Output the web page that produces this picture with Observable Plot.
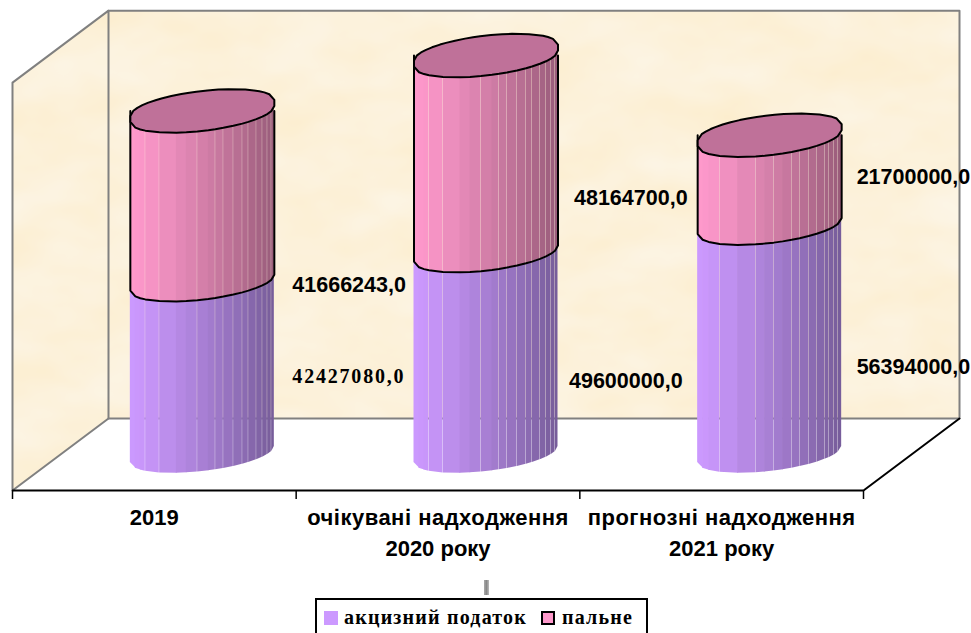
<!DOCTYPE html>
<html>
<head>
<meta charset="utf-8">
<script src="https://cdn.jsdelivr.net/npm/d3@7"></script>
<script src="https://cdn.jsdelivr.net/npm/@observablehq/plot@0.6"></script>
<style>
html,body{margin:0;padding:0;background:#fff;}
#page{position:relative;width:971px;height:633px;overflow:hidden;}
#page svg{display:block;}
#legend{position:absolute;left:315px;top:598px;width:329px;height:33px;border:2px solid #000;background:#fff;
  font:bold 20px "Liberation Serif",serif;letter-spacing:1.2px;color:#000;box-sizing:content-box;}
#legend span{position:absolute;top:7px;white-space:nowrap;line-height:20px;}
#legend i{position:absolute;top:11px;width:14px;height:14px;box-sizing:border-box;}
#mark{position:absolute;left:484px;top:580px;width:5px;height:15px;background:linear-gradient(90deg,#aaa,#888,#bbb);}
</style>
</head>
<body>
<div id="page"></div>
<script>
// ---- values ----
const categories = ["2019", "очікувані надходження\n2020 року", "прогнозні надходження\n2021 року"];
const excise = [42427080, 49600000, 56394000];
const fuel = [41666243, 48164700, 21700000];
const seriesNames = ["акцизний податок", "пальне"];
const wallTop = 100.7e6;

// ---- styling ----
const purple = ["#cc99ff", "#765c99"];
const pink = ["#ff99cc", "#995c7a"];
const topFill = "#bf7199";

// facet edges across the cylinder width (0..144), and the ones that show a seam
const facetsA = [0, 5, 10, 15, 29, 46, 56, 67, 78, 85, 93, 103, 112, 118, 126, 132, 137, 141, 144];
const seamsA = [15, 29, 67, 85, 93, 103, 112, 118, 126, 132, 137, 141];
const facetsB = [0, 5, 11, 22, 40, 58, 67, 76, 85, 94, 102, 111, 119, 127, 131, 136, 140, 144];
const seamsB = [22, 58, 76, 94, 102, 111, 119, 127, 131, 136, 140];
const facetSets = [[facetsA, seamsA], [facetsA, seamsA], [facetsB, seamsB]];

// px <-> data helpers
const bandPx = 851 / 3, pxPerVal = 4.05e-6;
const X = (px) => px / bandPx, Y = (px) => px / pxPerVal;
const dX = X(96), dY = Y(72);
const R = 72;

// Front curve of an ellipse, pixels down from its centre, for u in [-1,1]
const front = (u) => -8 * u + 3 + 17 * Math.sqrt(Math.max(0, 1 - u * u));
const cx = (i) => i + 0.5 + dX / 2;
const level = (v) => v + dY * 39 / 72;
const toU = (e) => e / 72 - 1;
const ptX = (i, u) => cx(i) + X(u * R);
const ptY = (v, u) => level(v) - Y(front(u));

// strips
const strips = [];
function addStrips(i, lo, hi, ramp, key) {
  const [edges, seams] = facetSets[i];
  const col = d3.interpolateRgb(ramp[0], ramp[1]);
  for (let j = 0; j < edges.length - 1; j++) {
    const a = edges[j], b = edges[j + 1];
    const gap = seams.includes(a) ? 0.3 : 0;
    const over = seams.includes(b) || j === edges.length - 2 ? 0 : 0.7;
    const id = `${key}${i}-${j}`;
    const t = Math.pow((a + b) / 2 / 144, 1.25);
    const u0 = toU(a), u1 = toU(b);
    strips.push({id, color: col(t), x: ptX(i, u0) + X(gap), y1: ptY(lo, u0), y2: ptY(hi, u0)});
    strips.push({id, color: col(t), x: ptX(i, u1) + X(over), y1: ptY(lo, u1), y2: ptY(hi, u1)});
  }
}
categories.forEach((c, i) => {
  addStrips(i, 0, excise[i], purple, "a");
  addStrips(i, excise[i], excise[i] + fuel[i], pink, "b");
});

// outlines
const outlines = [], caps = [];
categories.forEach((c, i) => {
  const edges = facetSets[i][0];
  const mid = excise[i], tot = excise[i] + fuel[i];
  outlines.push({id: i, x: ptX(i, -1), y: level(tot)});
  edges.forEach((e) => outlines.push({id: i, x: ptX(i, toU(e)), y: ptY(mid, toU(e))}));
  outlines.push({id: i, x: ptX(i, 1), y: level(tot)});
  edges.forEach((e) => caps.push({id: i, x: ptX(i, toU(e)), y: ptY(tot, toU(e))}));
  edges.forEach((e) => {
    const u = toU(e);
    caps.push({id: i, x: ptX(i, -u), y: level(tot) + Y(front(u))});
  });
  caps.push({id: i, x: ptX(i, -1), y: ptY(tot, -1)});
});

const leftWall = [
  {x: 0, y: 0}, {x: dX, y: dY}, {x: dX, y: dY + wallTop}, {x: 0, y: wallTop}, {x: 0, y: 0}
];
const backOutline = [
  {x: dX, y: dY + wallTop}, {x: 3 + dX, y: dY + wallTop}, {x: 3 + dX, y: dY}, {x: dX, y: dY}
];

const fmt = (v) => v.toFixed(1).replace(".", ",");
const labelShift = {
  excise: [[18, 11.5], [11, 30], [15, 30]],
  fuel: [[18, 89.5], [16, 45], [15, -2.5]]
};
const valueLabel = (v, i, mid, [sx, sy]) => ({
  text: fmt(v),
  x: ptX(i, 1) + X(sx),
  y: level(mid) - Y(sy)
});
const fuelLabels = fuel.map((v, i) => valueLabel(v, i, excise[i] + v / 2, labelShift.fuel[i]));
const exciseLabels = excise.map((v, i) => valueLabel(v, i, v / 2, labelShift.excise[i]));

const defs = () => {
  const g = d3.create("svg:defs");
  g.html(`<filter id="paper" x="0" y="0" width="1" height="1" color-interpolation-filters="sRGB">
    <feTurbulence type="fractalNoise" baseFrequency="0.012 0.022" numOctaves="3" seed="11"/>
    <feColorMatrix type="matrix" values="0 0 0 0 0.99  0.035 0 0 0 0.928  0.11 0 0 0 0.80  0 0 0 0 1"/>
    <feComposite in2="SourceAlpha" operator="in"/>
  </filter>`);
  return g.node();
};

const sans = {fontFamily: "'Liberation Sans',Arial,sans-serif", fontWeight: "bold", fill: "#000"};

const chart = Plot.plot({
  width: 971,
  height: 597,
  marginTop: 0, marginRight: 0, marginBottom: 0, marginLeft: 0,
  x: {domain: [0, 3], range: [12, 863], axis: null},
  y: {domain: [0, 120e6], range: [490, 4], axis: null},
  color: {type: "identity"},
  marks: [
    defs,
    Plot.rect([{}], {x1: dX, x2: 3 + dX, y1: dY, y2: dY + wallTop, fill: "#fcf1da"}),
    Plot.line(leftWall, {x: "x", y: "y", fill: "#fcf1da", stroke: "none"}),
    Plot.line(leftWall, {x: "x", y: "y", stroke: "#808080", strokeWidth: 2}),
    Plot.line(backOutline, {x: "x", y: "y", stroke: "#808080", strokeWidth: 2}),
    Plot.line([{x: 3, y: 0}, {x: 3 + dX, y: dY}], {x: "x", y: "y", stroke: "#000", strokeWidth: 2}),
    Plot.ruleY([0], {x1: 0, x2: 3, stroke: "#000", strokeWidth: 2}),
    Plot.ruleX([0, 1, 2, 3], {y1: 0, y2: Y(-9), stroke: "#000", strokeWidth: 1.5}),
    Plot.area(strips, {x1: "x", y1: "y1", y2: "y2", z: "id", fill: "color", curve: "linear"}),
    Plot.line(outlines, {x: "x", y: "y", z: "id", stroke: "#000", strokeWidth: 2, strokeLinejoin: "round", curve: "linear"}),
    Plot.line(caps, {x: "x", y: "y", z: "id", fill: topFill, stroke: "#000", strokeWidth: 2, strokeLinejoin: "round", curve: "linear"}),
    Plot.text(categories, {
      x: (d, i) => i + 0.5, y: 0, text: (d) => d, dy: 12, lineAnchor: "top", lineHeight: 1.41, fontSize: 22, ...sans
    }),
    Plot.text(fuelLabels, {x: "x", y: "y", text: "text", textAnchor: "start", fontSize: 21.5, ...sans}),
    Plot.text(exciseLabels.slice(1), {x: "x", y: "y", text: "text", textAnchor: "start", fontSize: 21.5, ...sans}),
    Plot.text(exciseLabels.slice(0, 1), {
      x: "x", y: "y", text: "text", textAnchor: "start",
      fontFamily: "'Liberation Serif',serif", fontWeight: "bold", fontSize: 20, fill: "#000"
    })
  ]
});

// paper texture on the two walls, letter spacing on the texts that need it
chart.querySelector('g[aria-label="rect"]').setAttribute("filter", "url(#paper)");
chart.querySelector('g[aria-label="line"]').setAttribute("filter", "url(#paper)");
const textGroups = chart.querySelectorAll('g[aria-label="text"]');
textGroups[textGroups.length - 1].querySelectorAll("text").forEach((t) => t.style.letterSpacing = "1.8px");
textGroups[0].querySelectorAll("text").forEach((t) => {
  const first = t.querySelector("tspan");
  if (first && t.querySelectorAll("tspan").length > 1) first.style.letterSpacing = "0.5px";
});
chart.style.background = "#fff";

const page = document.getElementById("page");
page.appendChild(chart);

const markEl = document.createElement("div");
markEl.id = "mark";
page.appendChild(markEl);

const legend = document.createElement("div");
legend.id = "legend";
legend.innerHTML =
  `<i style="left:7px;background:${purple[0]}"></i><span style="left:27px">${seriesNames[0]}</span>` +
  `<i style="left:224px;background:${pink[0]};border:2px solid #000"></i><span style="left:245px">${seriesNames[1]}</span>`;
page.appendChild(legend);
</script>
</body>
</html>
